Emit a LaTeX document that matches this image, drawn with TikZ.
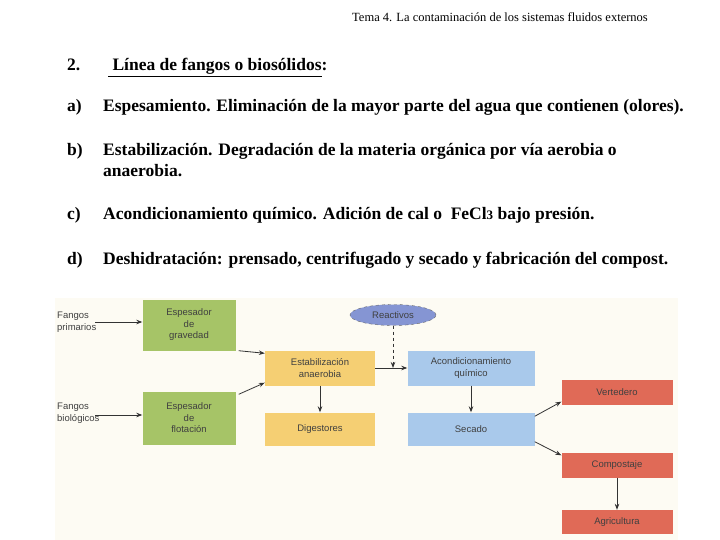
\documentclass[tikz,border=0pt]{standalone}
\usepackage{fontspec}
\setmainfont{Liberation Serif}
\newfontfamily\diag{Liberation Sans}
\usetikzlibrary{arrows.meta,shapes.geometric}
\definecolor{gr}{HTML}{A6C467}
\definecolor{ye}{HTML}{F5CF73}
\definecolor{bl}{HTML}{A9C9EB}
\definecolor{rd}{HTML}{E06A57}
\definecolor{el}{HTML}{8595D3}
\definecolor{bg}{HTML}{FDFBF3}
\begin{document}
\begin{tikzpicture}[x=1pt,y=-1pt,
 box/.style={inner sep=0pt,align=center,font=\diag\fontsize{9.5}{11.5}\selectfont,text=black!75},
 txt/.style={anchor=base west,inner sep=0pt,font=\bfseries\fontsize{17.5}{20}\selectfont},
 ar/.style={-{Stealth[length=6pt,width=4.5pt]},black!80,line width=0.8pt}]
\useasboundingbox (0,0) rectangle (720,540);
\node[anchor=base,inner sep=0pt,font=\fontsize{12.5}{14}\selectfont] (hdr) at (500,22) {Tema 4. La contaminación de los sistemas fluidos externos};
\node[txt] (n2) at (67,71) {2.};
\node[txt] (t2) at (108,71) {\underline{\ Línea de fangos o biosólidos}:};
\node[txt] (la) at (67,112) {a)};
\node[txt] (ta) at (103,112) {Espesamiento. Eliminación de la mayor parte del agua que contienen (olores).};
\node[txt] (lb) at (67,156) {b)};
\node[txt] (tb) at (103,156) {Estabilización. Degradación de la materia orgánica por vía aerobia o};
\node[txt] (tb2) at (103,177) {anaerobia.};
\node[txt] (lc) at (67,220) {c)};
\node[txt] (tc) at (103,220) {Acondicionamiento químico. Adición de cal o\ \ Fe\mbox{Cl{\fontsize{13}{14}\selectfont 3}} bajo presión.};
\node[txt] (ld) at (67,264) {d)};
\node[txt] (td) at (103,264) {Deshidratación: prensado, centrifugado y secado y fabricación del compost.};
\fill[bg] (55,298) rectangle (678,540);
\node[box,fill=gr,minimum width=93pt,minimum height=51pt] (g1) at (189,325) {Espesador\\de\\gravedad};
\node[box,fill=gr,minimum width=93pt,minimum height=53pt] (g2) at (189,418) {Espesador\\de\\flotación};
\node[box,fill=ye,minimum width=110pt,minimum height=35pt] (y1) at (320,368) {Estabilización\\anaerobia};
\node[box,fill=ye,minimum width=110pt,minimum height=33pt] (y2) at (320,429) {Digestores};
\node[box,fill=bl,minimum width=127pt,minimum height=35pt] (b1) at (471,368) {Acondicionamiento\\químico};
\node[box,fill=bl,minimum width=127pt,minimum height=33pt] (b2) at (471,429) {Secado};
\node[box,fill=rd,minimum width=111pt,minimum height=25pt] (r1) at (617,392) {Vertedero};
\node[box,fill=rd,minimum width=111pt,minimum height=25pt] (r2) at (617,465) {Compostaje};
\node[box,fill=rd,minimum width=111pt,minimum height=24pt] (r3) at (617,522) {Agricultura};
\node[box,ellipse,fill=el,draw=black!60,dashed,minimum width=86pt,minimum height=21pt] (re) at (393,315) {Reactivos};
\node[box,anchor=north west,align=left] (fp) at (57,312) {Fangos\\primarios};
\node[box,anchor=north west,align=left] (fb) at (57,403) {Fangos\\biológicos};
\coordinate (fpe) at (95,322);
\coordinate (fbe) at (95,415);
\draw[ar] (fpe) -- (fpe -| g1.west);
\draw[ar] (fbe) -- (fbe -| g2.west);
\draw[ar] ([xshift=3pt]g1.south east) -- ([yshift=-3pt]y1.north west);
\draw[ar] ([xshift=3pt,yshift=-3pt]g2.north east) -- ([yshift=3pt]y1.south west);
\draw[ar] (y1.south) -- (y2.north);
\draw[ar] (y1.east) -- (b1.west);
\draw[ar,dashed] (re.south) -- (re.south |- b1.west);
\draw[ar] (b1.south) -- (b2.north);
\draw[ar] ([yshift=-4pt]b2.north east) -- ([yshift=3pt]r1.south west);
\draw[ar] ([yshift=4pt]b2.south east) -- ([yshift=-3pt]r2.north west);
\draw[ar] (r2.south) -- (r3.north);
\end{tikzpicture}
\end{document}
